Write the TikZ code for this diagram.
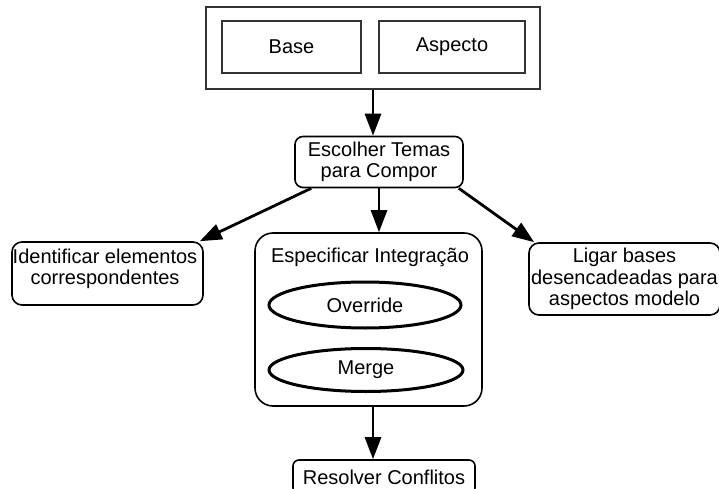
\documentclass[tikz,border=0pt]{standalone}
\usepackage{fontspec}
\setmainfont{Liberation Sans}
\usetikzlibrary{shapes.geometric,arrows.meta,calc}

\tikzset{
  lbl/.style={font=\fontsize{20}{21.5}\selectfont, align=center, inner sep=0pt},
  plainbox/.style={draw=black!80, line width=1.3pt, inner sep=0pt},
  roundbox/.style={draw, line width=1.6pt, rounded corners=#1, inner sep=0pt},
  oval/.style={ellipse, draw, line width=3pt, inner sep=0pt},
  flow/.style={line width=2.8pt, -{Triangle[length=22pt,width=16pt]}},
}

\begin{document}
\begin{tikzpicture}[x=1pt,y=-1pt]
  \useasboundingbox (0,0) rectangle (719,489);
  \clip (0,0) rectangle (719,489);

  % inputs: base and aspect models
  \node[plainbox, minimum width=334, minimum height=82] (outer) at (373,48) {};
  \node[plainbox, lbl, minimum width=139, minimum height=52] (base) at (291.5,47) {Base};
  \node[plainbox, lbl, minimum width=146, minimum height=52] (aspecto) at (452,47) {Aspecto};

  % choose themes
  \node[roundbox=8pt, lbl, minimum width=168, minimum height=51] (esc) at (379,162)
    {Escolher Temas\\para Compor};

  % left branch
  \node[roundbox=10pt, minimum width=191, minimum height=63] (identbox) at (107.5,273.5) {};
  \node[lbl] (ident) at (105,269) {Identificar elementos\\correspondentes};

  % right branch
  \node[roundbox=10pt, lbl, minimum width=191, minimum height=72] (ligar) at (624.5,279)
    {Ligar bases\\desencadeadas para\\aspectos modelo};

  % integration specification
  \node[roundbox=18pt, minimum width=227, minimum height=173] (esp) at (368.5,319.5) {};
  \node[lbl] (esptitle) at (370,257) {Especificar Integração};
  \node[oval, lbl, minimum width=192, minimum height=46] (override) at (365,305) {Override};
  \node[oval, lbl, minimum width=194, minimum height=43] (merge) at (366,370) {Merge};

  % conflict resolution
  \node[roundbox=6pt, lbl, minimum width=182, minimum height=34] (resolver) at (384,477)
    {Resolver Conflitos};

  % connectors
  \draw[flow] (outer.south) -- (outer.south |- esc.north);
  \draw[flow] (esc.south) -- (esc.south |- esp.north);
  \draw[flow] ($(esc.south west)+(17,0)$) -- ($(identbox.north east)+(-4,0)$);
  \draw[flow] ($(esc.south east)+(-5,0)$) -- ($(ligar.north west)+(6,0)$);
  \coordinate (drop) at ([xshift=4.5pt]esp.south);
  \draw[flow] (drop) -- (drop |- resolver.north);
\end{tikzpicture}
\end{document}
